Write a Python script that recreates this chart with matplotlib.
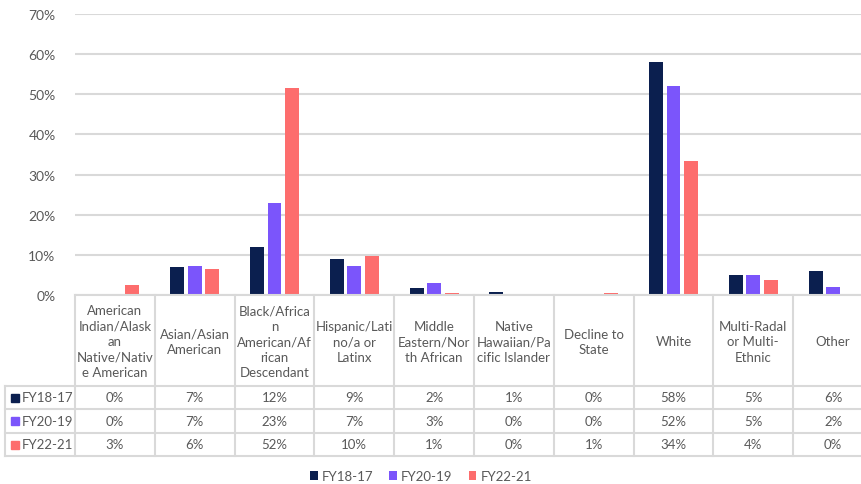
import numpy as np
import matplotlib.pyplot as plt
from matplotlib.patches import Rectangle

plt.rcParams['font.family'] = ['Lato', 'DejaVu Sans']

categories = [
    "American\nIndian/Alask\nan\nNative/Nativ\ne American",
    "Asian/Asian\nAmerican",
    "Black/Africa\nn\nAmerican/Af\nrican\nDescendant",
    "Hispanic/Lati\nno/a or\nLatinx",
    "Middle\nEastern/Nor\nth African",
    "Native\nHawaiian/Pa\ncific Islander",
    "Decline to\nState",
    "White",
    "Multi-Radal\nor Multi-\nEthnic",
    "Other",
]
series_names = ["FY18-17", "FY20-19", "FY22-21"]
fy18_17 = [0.0, 7.0, 12.0, 9.0, 1.8, 0.8, 0.0, 58.0, 5.0, 6.0]
fy20_19 = [0.0, 7.3, 22.8, 7.3, 3.0, 0.1, 0.0, 52.0, 5.1, 2.0]
fy22_21 = [2.5, 6.5, 51.5, 9.7, 0.6, 0.0, 0.5, 33.5, 3.8, 0.0]
table_fy18_17 = ["0%", "7%", "12%", "9%", "2%", "1%", "0%", "58%", "5%", "6%"]
table_fy20_19 = ["0%", "7%", "23%", "7%", "3%", "0%", "0%", "52%", "5%", "2%"]
table_fy22_21 = ["3%", "6%", "52%", "10%", "1%", "0%", "1%", "34%", "4%", "0%"]
yticks = [0, 10, 20, 30, 40, 50, 60, 70]

colors = ["#0b1f4f", "#7b55fb", "#fd6d6d"]
grid_c = "#d9d9d9"
text_c = "#595959"

W, H = 862, 485
fig = plt.figure(figsize=(W / 100, H / 100), dpi=100)

# pixel layout
left, right, top, zero = 75, 873, 15, 296
n = len(categories)
col_w = (right - left) / n

ax = fig.add_axes([left / W, 1 - zero / H, (right - left) / W, (zero - top) / H])
x = np.arange(n)
bw = 0.175
offs = [-0.22, 0.0, 0.22]
bars = []
for vals, off, c, name in zip([fy18_17, fy20_19, fy22_21], offs, colors, series_names):
    bars.append(ax.bar(x + off, vals, width=bw, color=c, label=name, zorder=3))
ax.set_xlim(-0.5, n - 0.5)
ax.set_ylim(0, 70)
ax.set_yticks(yticks)
ax.set_yticklabels([f"{v}%" for v in yticks], color=text_c, fontsize=10)
ax.yaxis.grid(True, color=grid_c, linewidth=1.5, zorder=0)
ax.set_xticks([])
for s in ax.spines.values():
    s.set_visible(False)
ax.tick_params(axis='y', length=0, pad=14)

# data table drawn in pixel coords
tx = fig.add_axes([0, 0, 1, 1], facecolor="none")
tx.set_xlim(0, W)
tx.set_ylim(H, 0)
tx.axis("off")
row_y = [296, 387, 410, 434, 457]
lw = 1.5
tx.plot([left, right], [row_y[0], row_y[0]], color=grid_c, lw=lw)
for yy in row_y[1:]:
    tx.plot([5, right], [yy, yy], color=grid_c, lw=lw)
for i in range(n + 1):
    xx = left + i * col_w
    tx.plot([xx, xx], [row_y[0], row_y[-1]], color=grid_c, lw=lw)
tx.plot([5, 5], [row_y[1], row_y[-1]], color=grid_c, lw=lw)

for i, lab in enumerate(categories):
    cx = left + (i + 0.5) * col_w
    tx.text(cx, (row_y[0] + row_y[1]) / 2 + 1, lab, ha="center", va="center",
            fontsize=9.5, color=text_c, linespacing=1.35)
rows = [table_fy18_17, table_fy20_19, table_fy22_21]
for r, (vals, c, name) in enumerate(zip(rows, colors, series_names)):
    cy = (row_y[r + 1] + row_y[r + 2]) / 2
    tx.add_patch(Rectangle((11, cy - 4), 8, 8, color=c))
    tx.text(22, cy, name, ha="left", va="center", fontsize=9.5, color=text_c)
    for i, v in enumerate(vals):
        tx.text(left + (i + 0.5) * col_w, cy, v, ha="center", va="center",
                fontsize=9.5, color=text_c)

fig.legend(handles=bars, labels=series_names, loc="center",
           bbox_to_anchor=(0.5 - 0.5 / W * 20, 1 - 477 / H), ncol=3, frameon=False,
           fontsize=9.5, handlelength=0.6, handleheight=0.6, columnspacing=1.2,
           handletextpad=0.3, labelcolor=text_c)

fig.savefig("out.png", dpi=100)
